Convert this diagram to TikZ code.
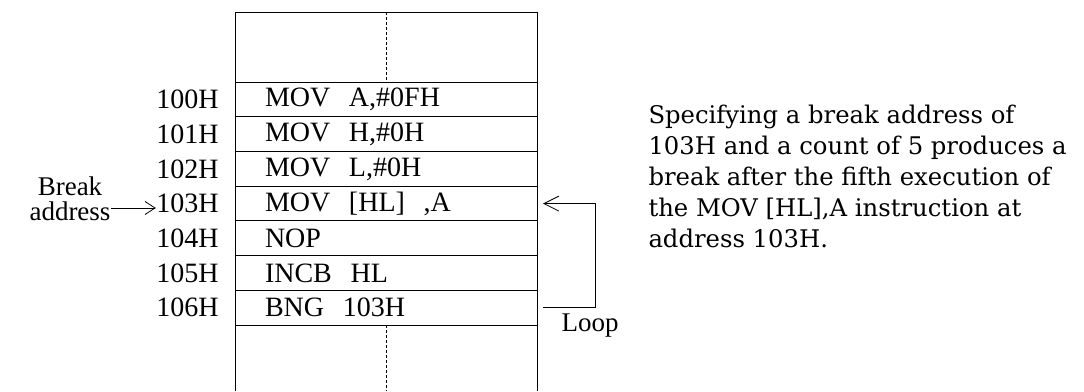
\documentclass[tikz,border=0pt]{standalone}
\usepackage{fontspec}
\setmainfont{Liberation Serif}
\newfontfamily\parafont{DejaVu Serif}
\usetikzlibrary{arrows.meta,positioning}
\begin{document}
\begin{tikzpicture}[x=1pt,y=-1pt,
  line width=1pt,
  rowbox/.style={draw, outer sep=0pt, minimum width=302pt, minimum height=34.7pt, inner xsep=30pt, inner ysep=0pt,
    text width=242pt, align=left, font=\fontsize{28}{28}\selectfont},
  addr/.style={font=\fontsize{28}{28}\selectfont, inner sep=0pt},
  lbl/.style={font=\fontsize{27}{25}\selectfont, inner sep=0pt, align=center},
  loopbarb/.style={-{Straight Barb[length=15pt,width=15pt,line width=0.8pt]}},
  brkbarb/.style={-{Straight Barb[length=10pt,width=13pt,line width=0.8pt]}},
  para/.style={font=\parafont\fontsize{24.3}{31}\selectfont, inner sep=0pt, align=left, anchor=north west}
]
\useasboundingbox (0,0) rectangle (1084,391);
% outer frame
\coordinate (tl) at (235,12);
\coordinate (tr) at (537,12);
\coordinate (bl) at (235,391);
\coordinate (br) at (537,391);
\draw (bl) -- (tl) -- (tr) -- (br);
% rows
\node[rowbox] (r0) at (386,99.5) {MOV\ \ A,\#0FH};
\node[rowbox, below=0pt of r0] (r1) {MOV\ \ H,\#0H};
\node[rowbox, below=0pt of r1] (r2) {MOV\ \ L,\#0H};
\node[rowbox, below=0pt of r2] (r3) {MOV\ \ [HL]\ \ ,A};
\node[rowbox, below=0pt of r3] (r4) {NOP};
\node[rowbox, below=0pt of r4] (r5) {INCB\ \ HL};
\node[rowbox, below=0pt of r5] (r6) {BNG\ \ 103H};
% dashed centre lines
\coordinate (dt) at (386,12);
\coordinate (db) at (386,391);
\draw[line width=0.8pt, dash pattern=on 3pt off 2pt] (dt) -- (r0.north);
\draw[line width=0.8pt, dash pattern=on 3pt off 2pt] (r6.south) -- (db);
% addresses
\node[addr, left=16pt of r0] (a0) {100H};
\node[addr, left=16pt of r1] (a1) {101H};
\node[addr, left=16pt of r2] (a2) {102H};
\node[addr, left=16pt of r3] (a3) {103H};
\node[addr, left=16pt of r4] (a4) {104H};
\node[addr, left=16pt of r5] (a5) {105H};
\node[addr, left=16pt of r6] (a6) {106H};
% break address
\node[lbl] (brk) at (70,199) {Break\\address};
\draw[brkbarb, line width=0.8pt] ([yshift=-9pt]brk.east) -- ([yshift=-9pt]brk.east -| a3.west);
% loop
\coordinate (lr) at (595,0);
\draw[loopbarb, line width=0.8pt] ([xshift=6pt]r6.east) -- (r6.east -| lr) |- ([xshift=6pt]r3.east);
\node[lbl] (loop) at (590,326) {Loop};
% paragraph
\node[para] (txt) at (648,105) {Specifying a break address of\\103H and a count of 5 produces a\\break after the fifth execution of\\the MOV [HL],A instruction at\\address 103H.};
\end{tikzpicture}
\end{document}
